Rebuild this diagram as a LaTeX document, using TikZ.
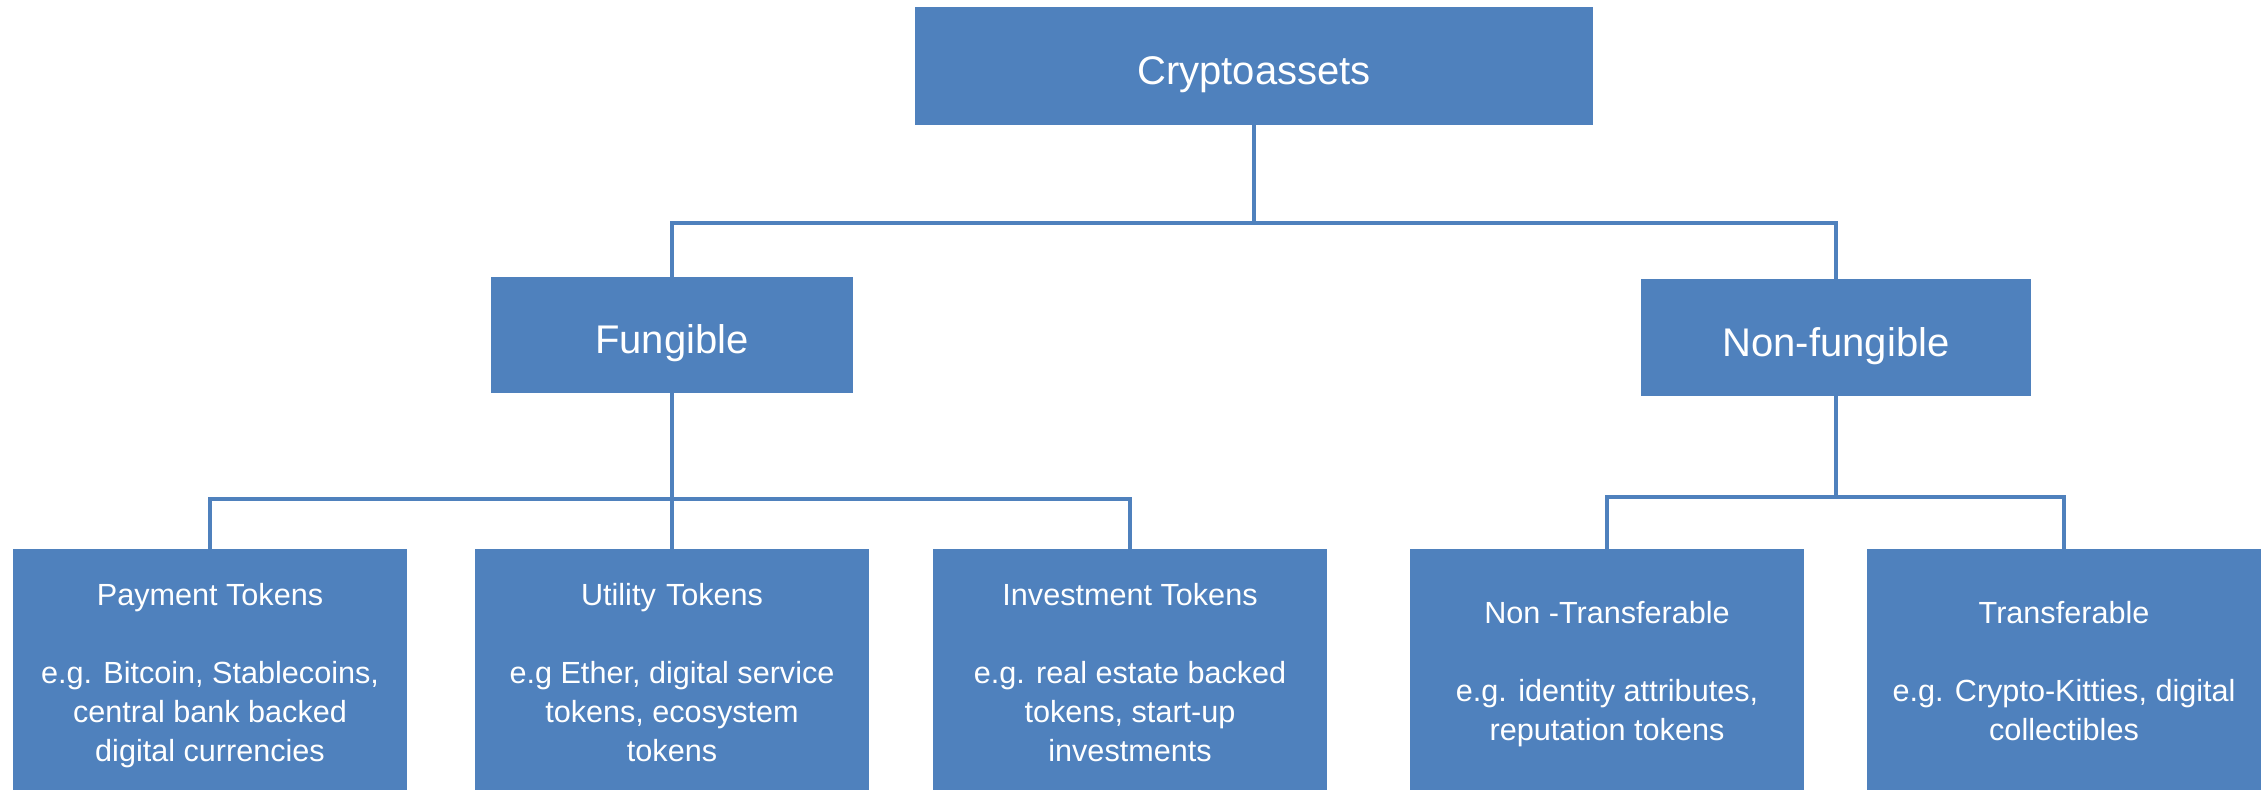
\documentclass[tikz,border=0pt]{standalone}
\usepackage{fontspec}
\setmainfont{Liberation Sans}
\definecolor{boxblue}{RGB}{79,129,189}
\newcommand\firstline{\rule{0pt}{12pt}}
\begin{document}
\begin{tikzpicture}[x=0.5pt,y=-0.5pt,
  box/.style={rectangle,fill=boxblue,draw=none,inner sep=0pt,text=white},
  headbox/.style={box,font=\fontsize{20}{24}\selectfont,text height=19pt,text depth=0pt},
  leafbox/.style={box,minimum width=394*0.5pt,minimum height=281*0.5pt},
  leaftext/.style={anchor=north,inner sep=0pt,text=white,align=center,
    font=\fontsize{15.3}{19.5}\selectfont},
  conn/.style={draw=boxblue,line width=2pt}]
\useasboundingbox (0,0) rectangle (2262,790);
\clip (0,0) rectangle (2262,790);

% root and second level
\node[headbox,minimum width=678*0.5pt,minimum height=118*0.5pt] (crypto) at (1254,66) {Cryptoassets};
\node[headbox,minimum width=362*0.5pt,minimum height=116*0.5pt] (fung) at (672,335) {Fungible};
\node[headbox,minimum width=390*0.5pt,minimum height=117*0.5pt] (nonfung) at (1836,337.5) {Non-fungible};

% leaf boxes (they run past the lower edge)
\node[leafbox] (pay)  at (210,689.5) {};
\node[leafbox] (util) at (672,689.5) {};
\node[leafbox] (inv)  at (1130,689.5) {};
\node[leafbox] (ntr)  at (1607,689.5) {};
\node[leafbox] (tr)   at (2064,689.5) {};

% leaf captions
\node[leaftext] (payt)  at (210,581)  {\firstline Payment Tokens\\[19.5pt]e.g. Bitcoin, Stablecoins,\\central bank backed\\digital currencies};
\node[leaftext] (utilt) at (672,581)  {\firstline Utility\,\,Tokens\\[19.5pt]e.g Ether, digital service\\tokens, ecosystem\\tokens};
\node[leaftext] (invt)  at (1130,581) {\firstline Investment Tokens\\[19.5pt]e.g. real estate backed\\tokens, start-up\\investments};
\node[leaftext] (ntrt)  at (1607,599) {\firstline Non -Transferable\\[19.5pt]e.g. identity attributes,\\reputation tokens};
\node[leaftext] (trt)   at (2064,599) {\firstline Transferable\\[19.5pt]e.g. Crypto-Kitties, digital\\collectibles};

% junction points of the tree
\coordinate (j1) at (1254,223);
\coordinate (j2) at (672,499);
\coordinate (j3) at (1836,497);

% connectors
\draw[conn] (crypto.south) -- (j1);
\draw[conn] (fung.north) |- (j1) -| (nonfung.north);
\draw[conn] (fung.south) -- (util.north);
\draw[conn] (pay.north) |- (j2) -| (inv.north);
\draw[conn] (nonfung.south) -- (j3);
\draw[conn] (ntr.north) |- (j3) -| (tr.north);
\end{tikzpicture}
\end{document}
